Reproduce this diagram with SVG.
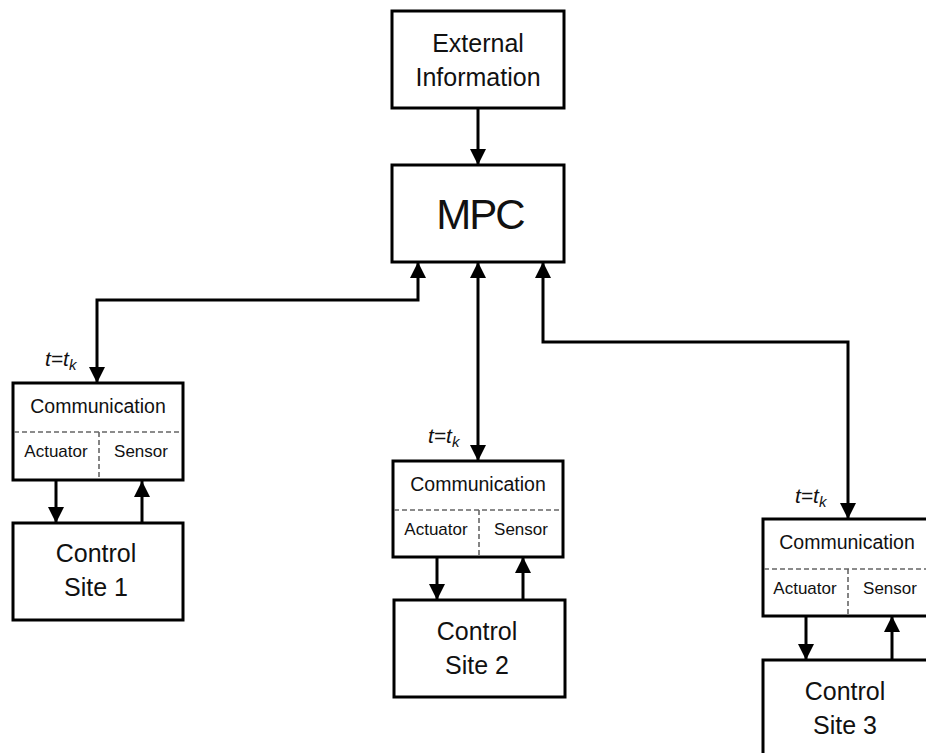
<svg xmlns="http://www.w3.org/2000/svg" width="926" height="753" viewBox="0 0 926 753">
  <style>
    .box { fill: #fff; stroke: #000; stroke-width: 3; }
    .dash { fill: none; stroke: #666; stroke-width: 1.6; stroke-dasharray: 5 3; }
    .wire { fill: none; stroke: #000; stroke-width: 3; }
    .lbl { font-family: "Liberation Sans", Arial, sans-serif; fill: #111; text-anchor: middle; }
    .big { font-size: 25px; }
    .comm { font-size: 19.5px; }
    .small { font-size: 17px; }
    .t { font-family: "Liberation Sans", Arial, sans-serif; fill: #111; font-style: italic; font-size: 21px; }
    .sub { font-size: 15px; }
  </style>
  <defs>
    <marker id="head" viewBox="0 0 14 16" refX="16" refY="8" markerWidth="14" markerHeight="16" markerUnits="userSpaceOnUse" orient="auto-start-reverse">
      <path d="M0,0 L16,8 L0,16 Z" fill="#000"/>
    </marker>
  </defs>

  <rect width="926" height="753" fill="#fff"/>

  <!-- connectors -->
  <g id="connectors">
    <path class="wire" d="M478,108 L478,165" marker-end="url(#head)"/>
    <path class="wire" d="M418,262 L418,300 L97,300 L97,383" marker-start="url(#head)" marker-end="url(#head)"/>
    <path class="wire" d="M478,262 L478,461" marker-start="url(#head)" marker-end="url(#head)"/>
    <path class="wire" d="M543,262 L543,342 L848,342 L848,519" marker-start="url(#head)" marker-end="url(#head)"/>

    <path class="wire" d="M56,481 L56,523" marker-end="url(#head)"/>
    <path class="wire" d="M142,523 L142,481" marker-end="url(#head)"/>

    <path class="wire" d="M437,557 L437,600" marker-end="url(#head)"/>
    <path class="wire" d="M523,600 L523,557" marker-end="url(#head)"/>

    <path class="wire" d="M806,616 L806,660" marker-end="url(#head)"/>
    <path class="wire" d="M892,660 L892,616" marker-end="url(#head)"/>
  </g>

  <g id="external">
    <rect class="box" x="392" y="11" width="172" height="97"/>
    <text class="lbl big" x="478" y="52">External</text>
    <text class="lbl big" x="478" y="86">Information</text>
  </g>

  <g id="mpc">
    <rect class="box" x="392" y="165" width="172" height="97"/>
    <text class="lbl" x="480" y="229" font-size="42" letter-spacing="-2">MPC</text>
  </g>

  <!-- site 1 -->
  <g id="comm1">
    <rect class="box" x="13" y="383" width="170" height="97"/>
    <line class="dash" x1="14" y1="432" x2="182" y2="432"/>
    <line class="dash" x1="99" y1="432" x2="99" y2="479"/>
    <text class="lbl comm" x="98" y="413">Communication</text>
    <text class="lbl small" x="56" y="457">Actuator</text>
    <text class="lbl small" x="141" y="457">Sensor</text>
    <text class="t" x="45" y="366">t=t<tspan class="sub" dy="4">k</tspan></text>
  </g>
  <g id="site1">
    <rect class="box" x="13" y="523" width="170" height="97"/>
    <text class="lbl big" x="96" y="562">Control</text>
    <text class="lbl big" x="96" y="596">Site 1</text>
  </g>

  <!-- site 2 -->
  <g id="comm2">
    <rect class="box" x="393" y="461" width="170" height="96"/>
    <line class="dash" x1="394" y1="510" x2="562" y2="510"/>
    <line class="dash" x1="479" y1="510" x2="479" y2="556"/>
    <text class="lbl comm" x="478" y="491">Communication</text>
    <text class="lbl small" x="436" y="535">Actuator</text>
    <text class="lbl small" x="521" y="535">Sensor</text>
    <text class="t" x="428" y="443">t=t<tspan class="sub" dy="4">k</tspan></text>
  </g>
  <g id="site2">
    <rect class="box" x="394" y="600" width="171" height="97"/>
    <text class="lbl big" x="477" y="640">Control</text>
    <text class="lbl big" x="477" y="674">Site 2</text>
  </g>

  <!-- site 3 -->
  <g id="comm3">
    <rect class="box" x="763" y="519" width="172" height="97"/>
    <line class="dash" x1="764" y1="569" x2="926" y2="569"/>
    <line class="dash" x1="848" y1="569" x2="848" y2="615"/>
    <text class="lbl comm" x="847" y="549">Communication</text>
    <text class="lbl small" x="805" y="594">Actuator</text>
    <text class="lbl small" x="890" y="594">Sensor</text>
    <text class="t" x="795" y="503">t=t<tspan class="sub" dy="4">k</tspan></text>
  </g>
  <g id="site3">
    <rect class="box" x="763" y="660" width="172" height="100"/>
    <text class="lbl big" x="845" y="700">Control</text>
    <text class="lbl big" x="845" y="734">Site 3</text>
  </g>
</svg>
